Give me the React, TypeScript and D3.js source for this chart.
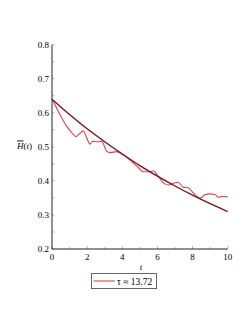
import { useRef, useEffect } from "react";
import * as d3 from "d3";

// sampled data (t, H)
const dataT = [0, 0.46, 0.84, 1.15, 1.37, 1.6, 1.78, 1.95, 2.16, 2.31, 2.6, 2.83, 3.11, 3.3, 3.68, 3.97, 4.54, 4.9, 5.2, 5.58, 5.77, 6.05, 6.4, 6.62, 6.9, 7.19, 7.47, 7.76, 7.95, 8.42, 8.7, 8.99, 9.28, 9.47, 9.75, 10];
const dataH = [0.641, 0.594, 0.56, 0.54, 0.53, 0.54, 0.547, 0.53, 0.508, 0.516, 0.515, 0.516, 0.487, 0.483, 0.486, 0.479, 0.457, 0.44, 0.427, 0.427, 0.43, 0.413, 0.392, 0.388, 0.393, 0.396, 0.381, 0.38, 0.37, 0.349, 0.359, 0.362, 0.36, 0.352, 0.354, 0.353];

// fitted curve read at integer t
const fitT = [0, 1, 2, 3, 4, 5, 6, 7, 8, 9, 10];
const fitH = [0.64, 0.595, 0.553, 0.515, 0.479, 0.445, 0.414, 0.385, 0.358, 0.333, 0.31];

const xTicks = [0, 2, 4, 6, 8, 10];
const yTicks = [0.2, 0.3, 0.4, 0.5, 0.6, 0.7, 0.8];
const legendLabel = "τ ≈ 13.72";

const W = 249;
const H = 323;

export default function App() {
    const svgRef = useRef<SVGSVGElement>(null);

    useEffect(() => {
        if (!svgRef.current) return;
        const svg = d3.select(svgRef.current);
        svg.selectAll("*").remove();

        const x = d3.scaleLinear().domain([0, 10]).range([52, 227.7]);
        const y = d3.scaleLinear().domain([0.2, 0.8]).range([249, 44.7]);
        const font = "Liberation Serif, DejaVu Serif, serif";

        // minor ticks
        const g = svg.append("g");
        d3.range(0, 10.01, 1).forEach((t) => {
            g.append("line")
                .attr("x1", x(t)).attr("x2", x(t))
                .attr("y1", y(0.2)).attr("y2", y(0.2) - (t % 2 === 0 ? 3 : 2))
                .attr("stroke", "#888").attr("stroke-width", 0.6);
        });
        d3.range(0.2, 0.801, 0.05).forEach((v) => {
            g.append("line")
                .attr("x1", x(0)).attr("x2", x(0) + 2.5)
                .attr("y1", y(v)).attr("y2", y(v))
                .attr("stroke", "#888").attr("stroke-width", 0.6);
        });

        // axes
        g.append("line")
            .attr("x1", x(0)).attr("x2", x(0))
            .attr("y1", y(0.8)).attr("y2", y(0.2))
            .attr("stroke", "#222").attr("stroke-width", 1);
        g.append("line")
            .attr("x1", x(0)).attr("x2", x(10))
            .attr("y1", y(0.2)).attr("y2", y(0.2))
            .attr("stroke", "#222").attr("stroke-width", 1);

        g.selectAll(".yl")
            .data(yTicks)
            .enter()
            .append("text")
            .attr("x", 49)
            .attr("y", (d) => y(d) + 3)
            .attr("text-anchor", "end")
            .attr("font-family", font)
            .attr("font-size", 9)
            .attr("fill", "#000")
            .text((d) => d.toFixed(1));

        g.selectAll(".xl")
            .data(xTicks)
            .enter()
            .append("text")
            .attr("x", (d) => x(d))
            .attr("y", 259.5)
            .attr("text-anchor", "middle")
            .attr("font-family", font)
            .attr("font-size", 9)
            .attr("fill", "#000")
            .text((d) => String(d));

        g.append("text")
            .attr("x", 141)
            .attr("y", 270)
            .attr("text-anchor", "middle")
            .attr("font-family", font)
            .attr("font-style", "italic")
            .attr("font-size", 9)
            .text("t");

        const yl = g.append("text")
            .attr("x", 17)
            .attr("y", 148.5)
            .attr("font-family", font)
            .attr("font-size", 9)
            .attr("fill", "#000");
        yl.append("tspan").attr("font-style", "italic").attr("text-decoration", "overline").text("H");
        yl.append("tspan").text("(");
        yl.append("tspan").attr("font-style", "italic").text("t");
        yl.append("tspan").text(")");

        const line = d3.line<[number, number]>()
            .x((d) => x(d[0]))
            .y((d) => y(d[1]))
            .curve(d3.curveMonotoneX);

        g.append("path")
            .attr("d", line(dataT.map((t, i) => [t, dataH[i]] as [number, number])))
            .attr("fill", "none")
            .attr("stroke", "#e2434b")
            .attr("stroke-width", 1.1);

        g.append("path")
            .attr("d", line(fitT.map((t, i) => [t, fitH[i]] as [number, number])))
            .attr("fill", "none")
            .attr("stroke", "#7a1022")
            .attr("stroke-width", 1.4);

        // legend
        const lg = g.append("g");
        lg.append("rect")
            .attr("x", 91.5).attr("y", 273.5)
            .attr("width", 65).attr("height", 15)
            .attr("fill", "white")
            .attr("stroke", "#666").attr("stroke-width", 1);
        lg.append("line")
            .attr("x1", 93.5).attr("x2", 115)
            .attr("y1", 281).attr("y2", 281)
            .attr("stroke", "#e2434b").attr("stroke-width", 1.1);
        lg.append("text")
            .attr("x", 117)
            .attr("y", 284.5)
            .attr("font-family", font)
            .attr("font-size", 9.5)
            .attr("fill", "#000")
            .text(legendLabel);
    }, []);

    return (
        <svg
            ref={svgRef}
            width={W}
            height={H}
            style={{ position: "absolute", left: 0, top: 0, background: "white" }}
        />
    );
}
